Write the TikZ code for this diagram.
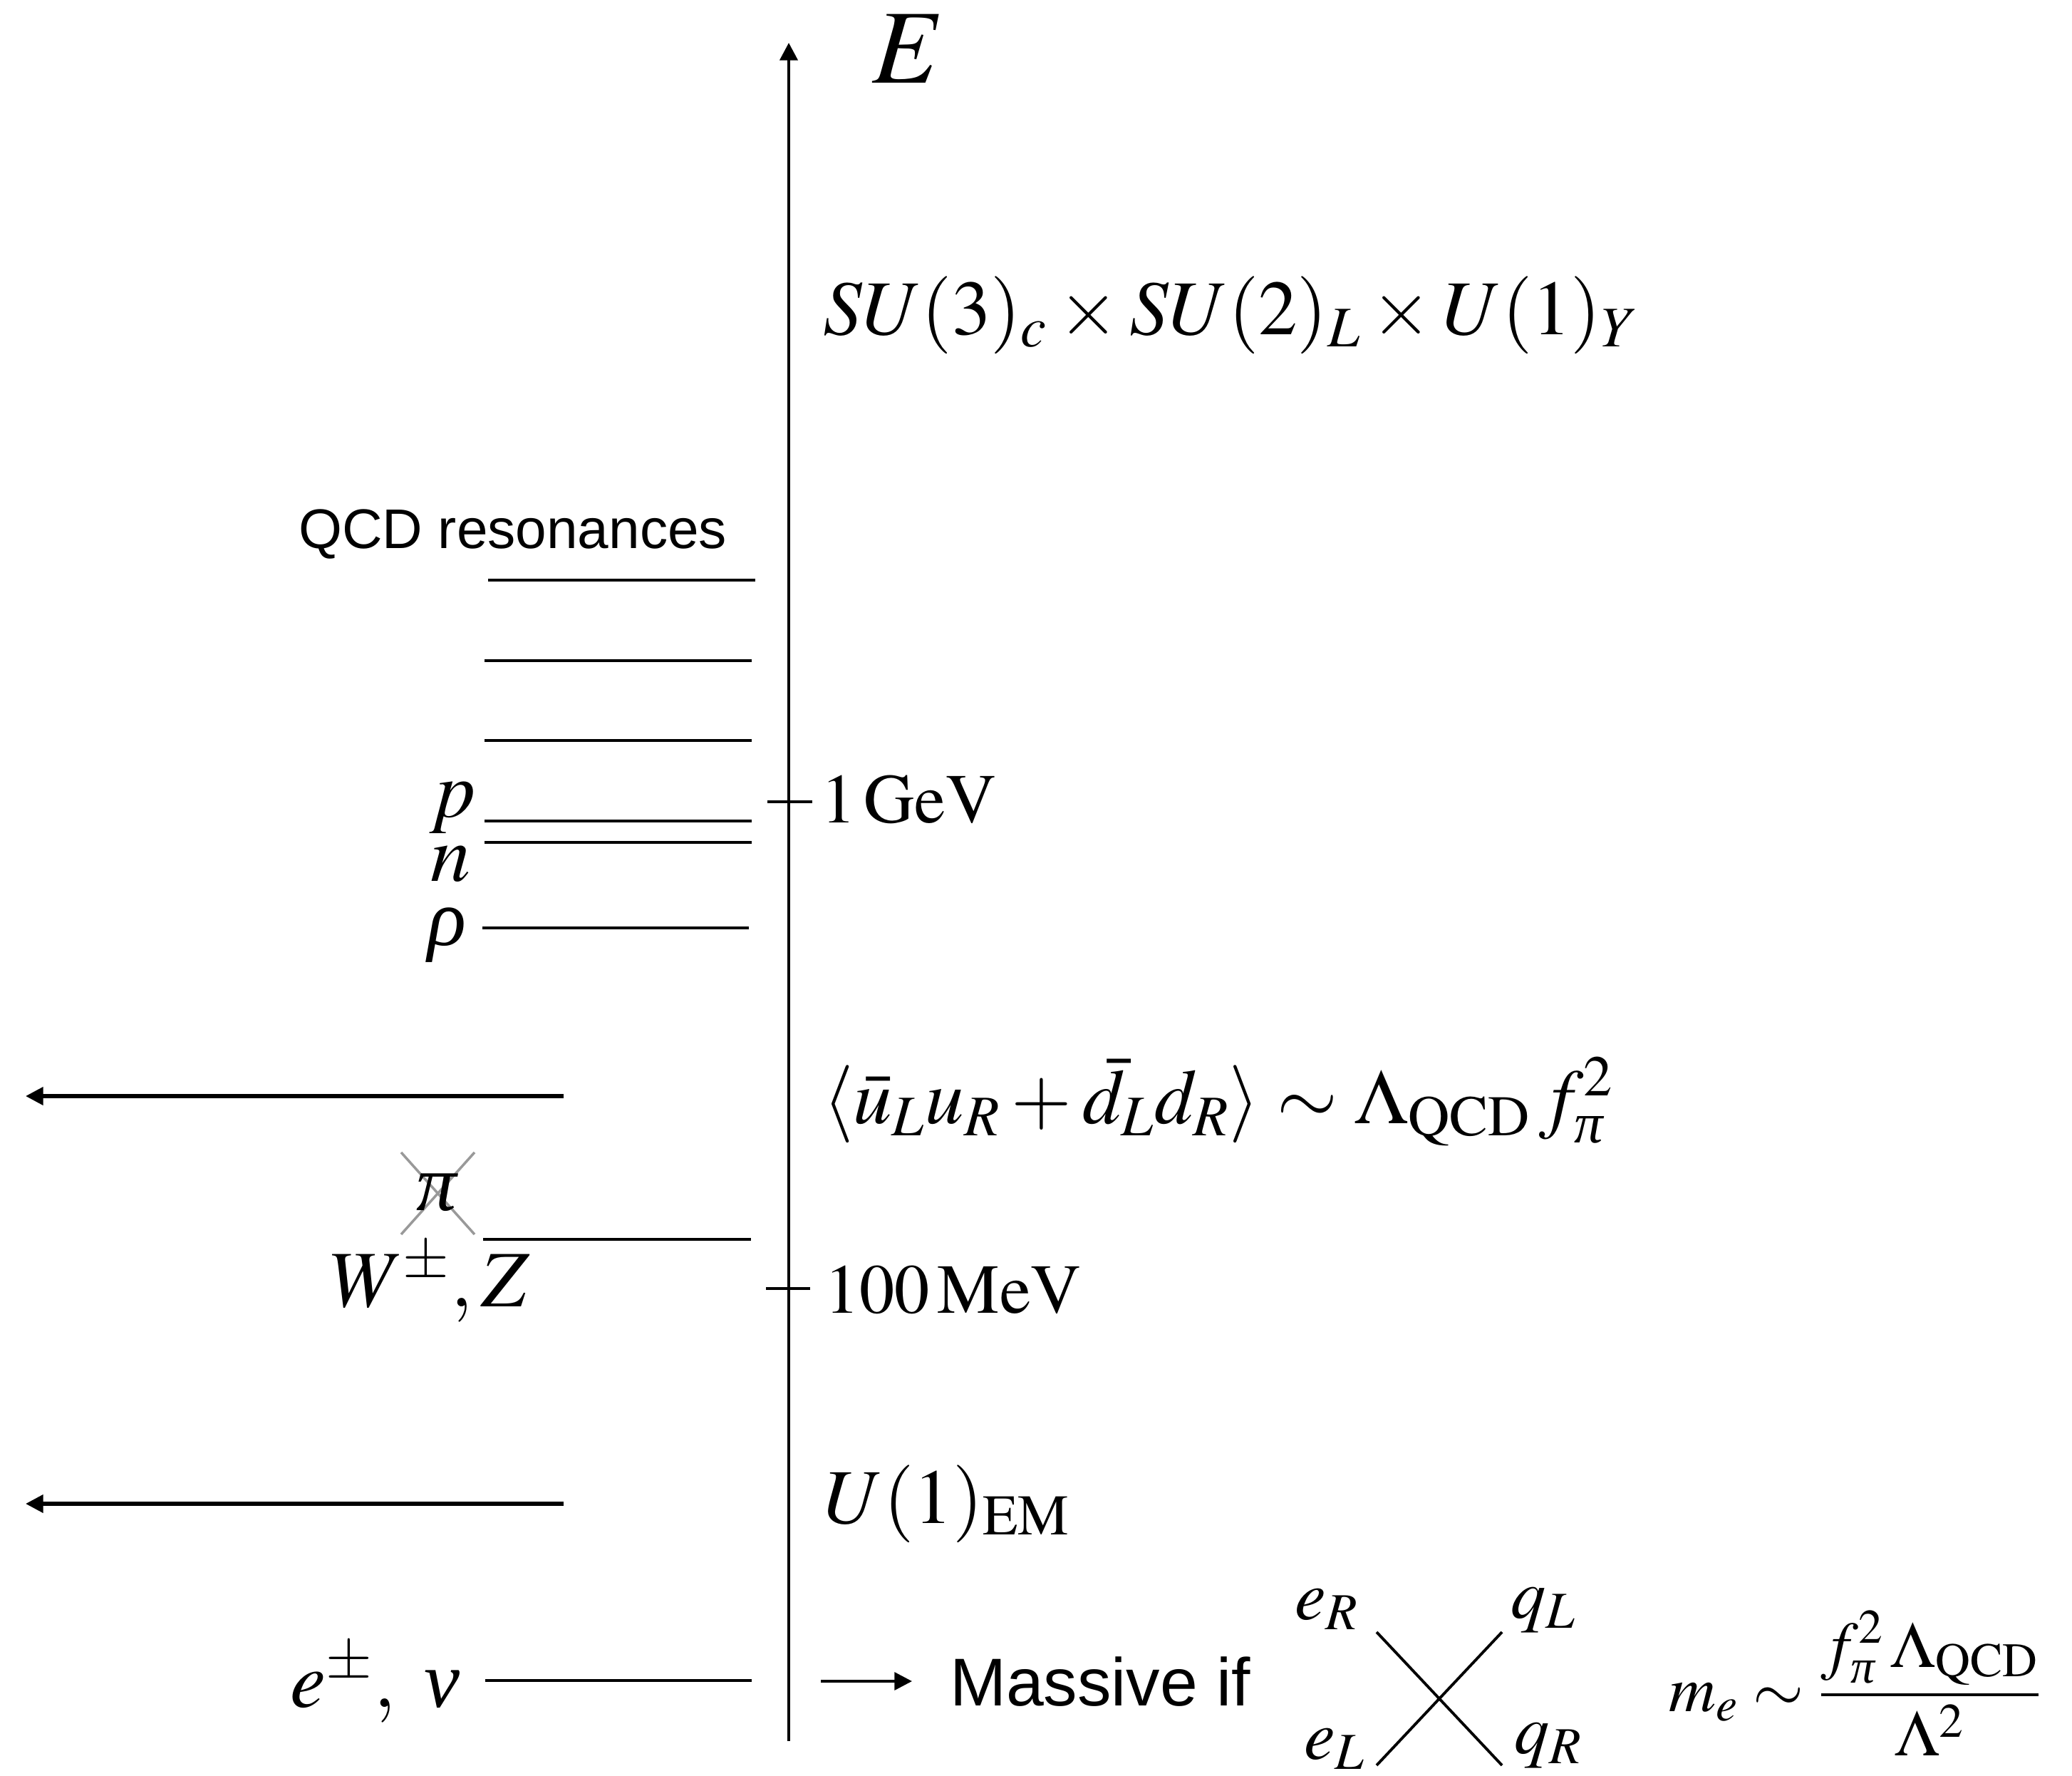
\documentclass[tikz,border=0pt]{standalone}
\usepackage{amsmath}
\usepackage{mathptmx}
\usepackage[no-math]{fontspec}
\setmainfont{Liberation Serif}
\setsansfont{Liberation Sans}
\usetikzlibrary{arrows.meta}
\newcommand\grk[1]{\textit{#1}}

\begin{document}
\begin{tikzpicture}[
    line width=1.2pt,
    big/.style={inner sep=0pt,font=\fontsize{31}{37}\selectfont},
    tick/.style={inner sep=0pt,font=\fontsize{28}{34}\selectfont},
    part/.style={inner sep=0pt,font=\fontsize{32}{38}\selectfont},
    leg/.style={inner sep=0pt,font=\fontsize{28}{34}\selectfont,anchor=base west},
    words/.style={inner sep=0pt,font=\sffamily\fontsize{22.3}{27}\selectfont},
    tip/.style={-{Triangle[length=7pt,width=7pt]}}
  ]
  \useasboundingbox (0,0) rectangle (29.08,24.91);
  % energy axis
  \draw [tip,line width=1.4pt] (11.07,0.48) -- (11.07,24.31);
  \node [inner sep=0pt,font=\fontsize{42}{50}\selectfont,anchor=base west] (E) at (12.22,23.74) {$E$};
  \draw (10.77,13.66) -- (11.40,13.66);
  \node [tick,anchor=base west] (gev) at (11.50,13.36) {$1\,\mathrm{GeV}$};
  \draw (10.75,6.83) -- (11.37,6.83);
  \node [tick,anchor=base west] (mev) at (11.55,6.49) {$100\,\mathrm{MeV}$};

  % symmetry labels
  \node [big,anchor=base west] (sm) at (11.53,20.21)
    {$SU(3)_c\times SU(2)_L\times U(1)_Y$};
  \node [big,anchor=base west] (cond) at (11.53,9.14)
    {$\langle\bar u_L u_R+\bar d_L d_R\rangle\sim\Lambda_{\mathrm{QCD}}\,f_{\grk{π}}^2$};
  \node [big,anchor=base west] (em) at (11.55,3.54) {$U(1)_{\mathrm{EM}}$};

  % spectrum
  \node [words,anchor=base west] (qcd) at (4.17,17.21) {QCD resonances};
  \draw (6.85,16.77) -- (10.60,16.77);
  \foreach \y in {15.64,14.52,13.39,13.09}
    \draw (6.80,\y) -- (10.55,\y);
  \draw (6.77,11.89) -- (10.51,11.89);
  \draw (6.78,7.52) -- (10.54,7.52);
  \draw (6.81,1.33) -- (10.55,1.33);
  \node [part,anchor=base east] (p) at (6.70,13.44) {$p$};
  \node [part,anchor=base east] (n) at (6.63,12.54) {$n$};
  \node [part,anchor=base east] (rho) at (6.57,11.64) {$\grk{ρ}$};
  \draw [black!40,line width=1pt] (5.63,8.74) -- (6.66,7.59) (5.63,7.59) -- (6.66,8.74);
  \node [part,anchor=base] (pi) at (6.13,7.93) {$\grk{π}$};
  \node [part,anchor=base east] (wz) at (7.46,6.58) {$W^\pm,Z$};
  \node [part,anchor=base east] (lep) at (6.48,0.96) {$e^\pm,\ \grk{ν}$};

  % breaking arrows
  \draw [tip,line width=1.5pt] (7.91,9.53) -- (0.36,9.53);
  \draw [tip,line width=1.5pt] (7.91,3.81) -- (0.36,3.81);

  % electron mass
  \draw [tip] (11.52,1.32) -- (12.80,1.32);
  \node [words,font=\sffamily\fontsize{27}{32}\selectfont,anchor=base west] (mass) at (13.31,0.98) {Massive if};
  \draw [line width=1.1pt] (19.32,2.01) -- (21.08,0.14) (21.08,2.01) -- (19.32,0.14);
  \node [leg] (eR) at (18.15,2.19) {$e_R$};
  \node [leg] (qL) at (21.18,2.21) {$q_L$};
  \node [leg] (eL) at (18.28,0.23) {$e_L$};
  \node [leg] (qR) at (21.23,0.31) {$q_R$};
  \node [inner sep=0pt,font=\fontsize{26}{31}\selectfont,anchor=base west] (me) at (23.40,0.90)
    {$m_e\sim\dfrac{f_{\grk{π}}^2\,\Lambda_{\mathrm{QCD}}}{\Lambda^2}$};
\end{tikzpicture}
\end{document}
